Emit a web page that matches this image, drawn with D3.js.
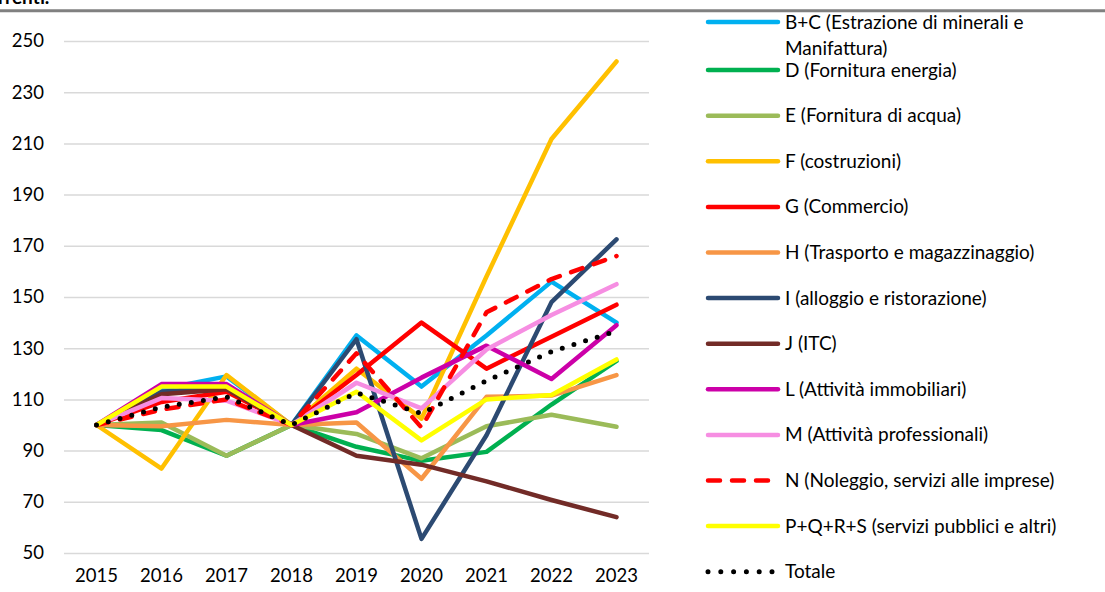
<!DOCTYPE html>
<html>
<head>
<meta charset="utf-8">
<script src="https://cdn.jsdelivr.net/npm/d3@7"></script>
<style>
  body { margin: 0; background: #fff; }
  text { font-family: Lato, "Open Sans", sans-serif; fill: #000; }
</style>
</head>
<body>
<div id="wrapper"></div>
<script>
// Data
const years = ["2015", "2016", "2017", "2018", "2019", "2020", "2021", "2022", "2023"];
const yTicks = [50, 70, 90, 110, 130, 150, 170, 190, 210, 230, 250];

const seriesNames = [
    ["B+C (Estrazione di minerali e", "Manifattura)"],
    ["D (Fornitura energia)"],
    ["E (Fornitura di acqua)"],
    ["F (costruzioni)"],
    ["G (Commercio)"],
    ["H (Trasporto e magazzinaggio)"],
    ["I (alloggio e ristorazione)"],
    ["J (ITC)"],
    ["L (Attività immobiliari)"],
    ["M (Attività professionali)"],
    ["N (Noleggio, servizi alle imprese)"],
    ["P+Q+R+S (servizi pubblici e altri)"],
    ["Totale"]
];

const valuesBC = [100, 114, 119, 100, 135, 115, 135, 156, 140];
const valuesD = [100, 98, 88, 100, 91.5, 86, 89.5, 108, 125];
const valuesE = [100, 101, 88, 100, 96.5, 87, 99.5, 104, 99.3];
const valuesF = [100, 83, 119.5, 100, 122, 102.5, 158, 211.7, 242];
const valuesG = [100, 109, 113, 100, 119.5, 140, 122, 134.5, 147];
const valuesH = [100, 99.5, 102, 100, 101, 79, 111, 111.5, 119.5];
const valuesI = [100, 113, 115, 100, 133.5, 55.5, 96, 148, 172.5];
const valuesJ = [100, 112, 114, 100, 88, 84.5, 78, 70.7, 64];
const valuesL = [100, 116, 116, 100, 105, 118.5, 131, 118, 139];
const valuesM = [100, 110.5, 109.5, 100, 116.5, 106.5, 129.5, 143, 155];
const valuesN = [100, 106, 110, 100, 128, 99, 144, 157, 166];
const valuesP = [100, 115, 115, 100, 113, 94, 110, 111.7, 125.6];
const valuesTot = [100, 107, 111, 100, 112.6, 104.5, 117.3, 128.7, 136.7];

const seriesValues = [valuesBC, valuesD, valuesE, valuesF, valuesG, valuesH, valuesI,
    valuesJ, valuesL, valuesM, valuesN, valuesP, valuesTot];

// Styles
const COLORS = ["#00B0F0", "#00B050", "#9BBB59", "#FFC000", "#FF0000", "#F79646", "#2C4A72",
    "#722B27", "#CC00A8", "#F68EE2", "#FF0000", "#FFFF00", "#000000"];
const DASHES = [null, null, null, null, null, null, null, null, null, null, "12,12", null, "0,12.2"];

const WIDTH = 1105;
const HEIGHT = 592;
const LINE_WIDTH = 4.5;
const AXIS_FONT = "18.5px";
const LEGEND_FONT = "19px";

const plot = { left: 64, right: 649, top: 41, bottom: 553 };

const svg = d3.select("#wrapper")
    .append("svg")
    .attr("width", WIDTH)
    .attr("height", HEIGHT);

// Title remnant (cut off at the top, as in the source) and top rule
svg.append("text")
    .attr("x", -2)
    .attr("y", 4)
    .style("font-size", "19px")
    .style("font-weight", "bold")
    .text("rrenti.");

svg.append("line")
    .attr("x1", 0).attr("x2", WIDTH)
    .attr("y1", 10.7).attr("y2", 10.7)
    .attr("stroke", "#808080")
    .attr("stroke-width", 3);

// Scales
const xScale = d3.scaleBand()
    .domain(years)
    .range([plot.left, plot.right])
    .padding(0);

const yScale = d3.scaleLinear()
    .domain([50, 250])
    .range([plot.bottom, plot.top]);

// Y axis + gridlines
const yAxis = svg.append("g")
    .attr("transform", `translate(${plot.left},0)`)
    .call(d3.axisLeft(yScale)
        .tickValues(yTicks)
        .tickSize(-(plot.right - plot.left))
        .tickPadding(20));
yAxis.select(".domain").remove();
yAxis.selectAll(".tick line")
    .attr("stroke", "#D9D9D9")
    .attr("stroke-width", 1.5);
yAxis.selectAll(".tick text")
    .style("font-size", AXIS_FONT)
    .style("font-family", "Lato, sans-serif")
    .attr("fill", "#000");

// X axis labels
const xAxis = svg.append("g")
    .attr("transform", `translate(0,${plot.bottom})`)
    .call(d3.axisBottom(xScale).tickSize(0).tickPadding(16));
xAxis.select(".domain").remove();
xAxis.selectAll(".tick text")
    .style("font-size", AXIS_FONT)
    .style("font-family", "Lato, sans-serif")
    .attr("fill", "#000");

// Lines
const lineGen = d3.line()
    .x((d, i) => xScale(years[i]) + xScale.bandwidth() / 2)
    .y(d => yScale(d));

svg.append("g")
    .selectAll("path")
    .data(seriesValues)
    .join("path")
    .attr("d", d => lineGen(d))
    .attr("fill", "none")
    .attr("stroke", (d, i) => COLORS[i])
    .attr("stroke-width", (d, i) => i === 12 ? 5 : LINE_WIDTH)
    .attr("stroke-linecap", "round")
    .attr("stroke-linejoin", "round")
    .attr("stroke-dasharray", (d, i) => DASHES[i]);

// Legend
const legendY = i => i === 0 ? 22 : 24.5 + i * 45.6;
const legend = svg.append("g")
    .selectAll("g")
    .data(seriesNames)
    .join("g")
    .attr("transform", (d, i) => `translate(0,${legendY(i)})`);

legend.append("line")
    .attr("x1", 708)
    .attr("x2", (d, i) => i === 12 ? 773 : 778)
    .attr("y1", 0).attr("y2", 0)
    .attr("stroke", (d, i) => COLORS[i])
    .attr("stroke-width", (d, i) => i === 12 ? 5 : LINE_WIDTH)
    .attr("stroke-linecap", "round")
    .attr("stroke-dasharray", (d, i) => i === 12 ? "0,12.8" : DASHES[i]);

legend.each(function(lines) {
    const t = d3.select(this).append("text")
        .attr("x", 785)
        .attr("y", 6.5)
        .style("font-size", LEGEND_FONT);
    lines.forEach((line, j) => {
        t.append("tspan")
            .attr("x", 785)
            .attr("dy", j === 0 ? 0 : 26)
            .text(line);
    });
});
</script>
</body>
</html>
